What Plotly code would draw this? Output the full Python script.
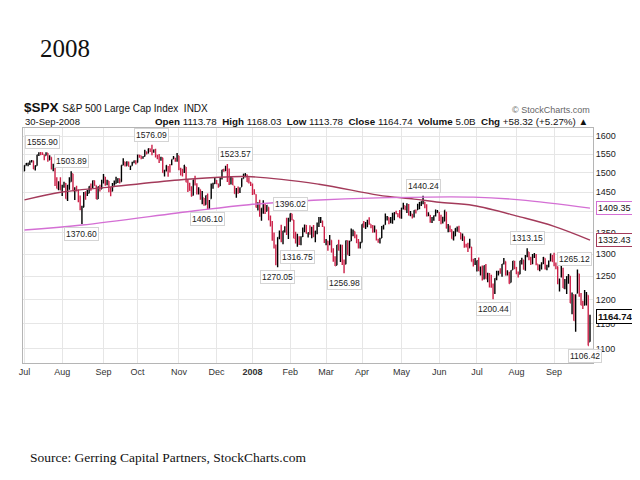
import math

import pandas as pd
import plotly.graph_objects as go

# trading calendar (NYSE holidays inside the window)
holidays = [
    "2007-07-04", "2007-09-03", "2007-11-22", "2007-12-25", "2008-01-01", "2008-01-21",
    "2008-02-18", "2008-03-21", "2008-05-26", "2008-07-04", "2008-09-01",
]

# daily S&P 500 bars, one line per month (Jul 2007 .. Sep 2008)
opens = [
    1504.7, 1519.1, 1524.9, 1524.5, 1530.4, 1531.9, 1509.9, 1518.7, 1547.7, 1552.5, 1549.5, 1549.2, 1546.1, 1553.2, 1534.1, 1541.6, 1511.0, 1518.1, 1482.4, 1458.9, 1473.9,
    1455.2, 1465.5, 1472.2, 1433.0, 1467.6, 1476.2, 1497.2, 1453.1, 1453.4, 1452.9, 1426.2, 1406.6, 1411.3, 1445.6, 1445.6, 1447.0, 1464.0, 1462.3, 1479.4, 1466.7, 1432.0, 1463.7, 1457.6,
    1473.9, 1488.8, 1472.0, 1478.5, 1453.5, 1451.7, 1471.1, 1471.5, 1483.9, 1484.2, 1476.6, 1519.8, 1528.7, 1518.8, 1525.8, 1516.3, 1518.6, 1527.3, 1531.2,
    1527.3, 1546.9, 1545.8, 1539.9, 1543.8, 1556.5, 1553.2, 1564.9, 1564.7, 1555.4, 1562.2, 1547.8, 1544.4, 1539.3, 1540.0, 1497.8, 1509.0, 1516.6, 1516.2, 1522.2, 1536.9, 1539.4, 1532.2,
    1545.8, 1511.1, 1505.6, 1505.3, 1515.5, 1475.3, 1467.6, 1453.7, 1441.4, 1483.4, 1468.0, 1453.1, 1456.7, 1434.5, 1434.7, 1417.6, 1440.7, 1409.6, 1432.9, 1467.4, 1471.8,
    1479.6, 1471.3, 1465.2, 1484.6, 1508.6, 1505.1, 1516.7, 1487.6, 1483.3, 1486.2, 1465.1, 1445.9, 1454.7, 1456.4, 1463.2, 1484.6, 1495.1, 1495.1, 1479.8, 1475.3,
    1467.9, 1447.6, 1444.0, 1414.1, 1415.7, 1390.3, 1406.8, 1419.9, 1401.6, 1411.9, 1377.4, 1374.8, 1333.9, 1312.9, 1310.4, 1340.1, 1357.3, 1330.7, 1355.9, 1362.2, 1351.9,
    1378.6, 1395.4, 1380.3, 1339.5, 1324.0, 1336.9, 1331.9, 1340.6, 1353.1, 1367.3, 1347.5, 1355.9, 1348.4, 1362.2, 1344.2, 1352.8, 1371.8, 1378.9, 1378.2, 1364.1,
    1330.5, 1329.6, 1327.7, 1332.2, 1301.5, 1293.2, 1274.4, 1321.1, 1305.3, 1316.1, 1283.2, 1277.0, 1330.0, 1299.7, 1330.3, 1349.1, 1352.5, 1340.3, 1327.0, 1315.9,
    1326.4, 1369.9, 1365.7, 1369.9, 1373.7, 1370.2, 1365.5, 1355.4, 1357.0, 1332.2, 1331.7, 1337.0, 1363.4, 1369.0, 1387.7, 1386.4, 1378.4, 1380.5, 1387.8, 1397.9, 1395.6, 1391.2,
    1385.1, 1409.2, 1415.3, 1405.6, 1417.5, 1394.3, 1394.9, 1389.4, 1404.4, 1405.0, 1408.4, 1423.9, 1425.3, 1424.5, 1414.1, 1390.8, 1392.2, 1375.9, 1386.5, 1390.5, 1398.4,
    1399.6, 1386.4, 1376.3, 1377.5, 1400.1, 1360.8, 1358.9, 1357.1, 1335.8, 1341.8, 1358.9, 1360.7, 1349.6, 1336.9, 1341.0, 1319.8, 1317.2, 1314.5, 1316.3, 1283.6, 1278.1,
    1276.7, 1285.0, 1262.9, 1262.9, 1251.8, 1273.4, 1245.3, 1248.7, 1241.6, 1226.8, 1214.6, 1246.3, 1258.2, 1261.8, 1257.1, 1278.9, 1283.2, 1253.5, 1257.8, 1236.4, 1264.5, 1281.4,
    1269.4, 1253.3, 1254.9, 1283.0, 1286.5, 1266.3, 1294.4, 1304.8, 1288.6, 1282.1, 1293.9, 1298.1, 1276.7, 1267.3, 1271.1, 1277.6, 1290.5, 1267.0, 1271.3, 1283.8, 1296.5,
    1287.8, 1276.6, 1271.8, 1233.2, 1249.5, 1267.0, 1227.5, 1229.0, 1245.9, 1250.9, 1188.3, 1210.3, 1157.1, 1213.1, 1255.4, 1207.6, 1188.8, 1187.9, 1204.5, 1209.1, 1113.78,
]
highs = [
    1519.9, 1526.0, 1526.6, 1532.4, 1534.3, 1531.9, 1519.3, 1548.0, 1555.1, 1555.90, 1555.3, 1549.2, 1555.2, 1553.2, 1547.2, 1541.6, 1524.3, 1518.1, 1488.5, 1477.9, 1488.3,
    1468.4, 1476.4, 1473.2, 1467.7, 1488.3, 1503.89, 1497.2, 1462.0, 1466.3, 1456.7, 1440.8, 1415.1, 1450.3, 1451.8, 1455.3, 1464.9, 1472.1, 1479.4, 1479.4, 1466.7, 1464.4, 1468.4, 1481.5,
    1496.4, 1488.8, 1481.5, 1478.5, 1462.0, 1473.0, 1479.5, 1489.6, 1485.0, 1484.2, 1520.2, 1538.7, 1529.1, 1530.9, 1530.2, 1518.3, 1529.4, 1532.4, 1533.7,
    1549.0, 1548.0, 1545.8, 1544.0, 1561.9, 1556.5, 1565.3, 1565.4, 1576.09, 1563.0, 1564.7, 1547.8, 1550.7, 1542.8, 1540.0, 1508.1, 1520.0, 1517.2, 1523.2, 1535.5, 1544.7, 1539.4, 1553.0,
    1545.8, 1513.2, 1510.8, 1520.8, 1515.5, 1482.5, 1474.1, 1464.9, 1481.4, 1492.1, 1472.7, 1462.2, 1456.7, 1452.6, 1434.7, 1440.9, 1446.1, 1429.5, 1471.6, 1473.8, 1488.9,
    1481.2, 1471.3, 1486.1, 1508.0, 1510.6, 1518.3, 1523.57, 1511.0, 1489.4, 1486.7, 1465.1, 1460.2, 1464.4, 1461.5, 1485.4, 1497.6, 1498.9, 1495.1, 1488.0, 1475.8,
    1471.8, 1456.8, 1444.0, 1423.9, 1430.3, 1409.2, 1429.1, 1419.9, 1417.3, 1411.9, 1391.0, 1377.7, 1350.3, 1322.1, 1339.1, 1355.2, 1368.6, 1354.5, 1364.9, 1385.9, 1385.6,
    1396.02, 1395.4, 1380.3, 1351.9, 1347.3, 1341.2, 1341.4, 1362.1, 1369.2, 1368.2, 1350.0, 1367.3, 1363.7, 1367.9, 1354.3, 1374.4, 1387.3, 1387.3, 1378.2, 1364.1,
    1335.1, 1331.0, 1344.2, 1332.2, 1313.2, 1295.0, 1320.7, 1333.3, 1321.7, 1321.5, 1287.5, 1331.3, 1331.8, 1330.7, 1359.7, 1357.1, 1352.5, 1345.6, 1334.9, 1328.5,
    1370.2, 1377.9, 1375.7, 1380.9, 1386.7, 1370.2, 1368.4, 1367.2, 1357.0, 1335.6, 1337.7, 1365.5, 1368.6, 1395.9, 1390.2, 1386.4, 1387.8, 1397.7, 1399.1, 1402.9, 1397.0, 1404.6,
    1410.1, 1422.7, 1415.3, 1421.6, 1419.5, 1402.4, 1394.9, 1404.1, 1406.3, 1420.2, 1424.4, 1425.8, 1440.24, 1424.5, 1419.1, 1399.1, 1392.2, 1387.4, 1391.3, 1406.3, 1404.5,
    1399.6, 1393.1, 1388.2, 1404.1, 1400.1, 1370.6, 1366.8, 1357.1, 1353.0, 1360.3, 1364.7, 1366.6, 1349.6, 1347.7, 1341.0, 1323.8, 1326.0, 1335.6, 1316.3, 1289.5, 1290.7,
    1285.3, 1292.2, 1271.7, 1273.9, 1274.2, 1277.4, 1257.7, 1257.3, 1253.5, 1234.4, 1245.5, 1262.3, 1262.2, 1267.7, 1277.4, 1291.2, 1283.2, 1263.2, 1260.1, 1263.2, 1284.3, 1284.9,
    1270.5, 1260.5, 1284.9, 1291.7, 1286.5, 1297.9, 1313.15, 1304.8, 1294.0, 1300.1, 1302.2, 1300.2, 1276.7, 1276.0, 1281.4, 1293.1, 1290.5, 1275.7, 1285.1, 1300.7, 1297.6,
    1303.0, 1280.6, 1271.8, 1244.9, 1274.4, 1268.7, 1243.9, 1249.9, 1255.1, 1250.9, 1214.8, 1210.3, 1211.1, 1265.12, 1255.4, 1214.0, 1197.4, 1220.0, 1215.8, 1209.1, 1168.03,
]
lows = [
    1504.7, 1519.1, 1517.1, 1520.5, 1527.5, 1510.0, 1506.1, 1518.7, 1544.9, 1546.7, 1547.7, 1533.7, 1546.1, 1529.2, 1534.1, 1508.6, 1503.7, 1465.3, 1458.9, 1454.3, 1454.3,
    1439.6, 1460.6, 1432.8, 1427.4, 1455.8, 1476.2, 1453.1, 1429.7, 1451.5, 1423.9, 1404.4, 1370.60, 1411.3, 1430.5, 1439.8, 1447.0, 1453.0, 1460.5, 1465.9, 1432.0, 1432.0, 1451.3, 1457.6,
    1472.2, 1466.3, 1467.4, 1449.1, 1439.3, 1451.7, 1465.8, 1471.5, 1473.2, 1471.8, 1476.6, 1519.8, 1516.4, 1518.8, 1516.1, 1507.1, 1518.6, 1525.4, 1521.9,
    1527.3, 1540.4, 1536.3, 1537.6, 1543.8, 1549.0, 1551.8, 1555.5, 1546.7, 1554.1, 1540.8, 1536.3, 1526.0, 1531.8, 1500.3, 1490.4, 1503.6, 1489.6, 1500.5, 1520.2, 1536.9, 1529.6, 1529.4,
    1506.7, 1492.5, 1489.9, 1499.1, 1475.0, 1450.3, 1453.0, 1438.5, 1441.4, 1466.5, 1443.5, 1443.9, 1430.4, 1419.3, 1415.6, 1417.6, 1406.10, 1407.4, 1432.9, 1458.4, 1470.9,
    1470.1, 1460.7, 1465.2, 1482.2, 1502.7, 1504.7, 1475.9, 1468.2, 1469.2, 1467.8, 1445.4, 1435.7, 1445.3, 1447.5, 1463.2, 1484.6, 1488.2, 1475.9, 1471.7, 1465.1,
    1442.1, 1443.7, 1411.2, 1403.5, 1388.3, 1378.7, 1395.3, 1394.8, 1401.6, 1379.6, 1364.3, 1330.7, 1312.5, 1274.3, 1270.05, 1334.3, 1327.5, 1322.6, 1350.3, 1344.2, 1335.0,
    1375.9, 1379.7, 1336.6, 1324.3, 1316.75, 1321.1, 1320.3, 1339.4, 1350.8, 1347.3, 1338.1, 1345.1, 1336.6, 1339.2, 1327.0, 1346.0, 1363.3, 1373.0, 1363.2, 1325.4,
    1320.0, 1307.4, 1320.2, 1303.4, 1282.4, 1272.7, 1274.4, 1307.9, 1282.1, 1274.9, 1256.98, 1277.0, 1298.4, 1295.2, 1330.3, 1341.2, 1336.4, 1325.7, 1312.9, 1312.8,
    1326.4, 1361.6, 1358.7, 1362.8, 1369.0, 1360.6, 1349.9, 1350.1, 1331.2, 1326.2, 1324.4, 1337.0, 1357.3, 1369.0, 1379.3, 1369.8, 1372.2, 1371.1, 1379.9, 1394.4, 1386.7, 1384.4,
    1383.1, 1406.3, 1404.4, 1397.1, 1391.2, 1389.4, 1384.1, 1386.2, 1396.3, 1405.0, 1406.9, 1414.4, 1419.3, 1409.1, 1388.8, 1390.2, 1373.7, 1373.1, 1378.2, 1388.6, 1398.1,
    1377.8, 1370.1, 1371.7, 1377.5, 1359.9, 1350.7, 1351.6, 1335.4, 1331.3, 1341.7, 1352.1, 1350.5, 1333.4, 1330.4, 1314.5, 1315.3, 1304.4, 1314.5, 1283.1, 1272.0, 1274.9,
    1260.7, 1261.5, 1252.0, 1240.7, 1242.8, 1244.6, 1236.8, 1225.4, 1225.0, 1200.44, 1211.4, 1241.4, 1251.8, 1255.7, 1248.8, 1276.1, 1251.5, 1251.8, 1233.9, 1236.4, 1264.5, 1265.7,
    1254.5, 1247.5, 1254.7, 1276.0, 1264.3, 1262.1, 1292.8, 1285.6, 1274.9, 1276.6, 1290.7, 1274.5, 1263.1, 1261.2, 1265.2, 1277.6, 1264.9, 1263.2, 1270.0, 1283.8, 1282.7,
    1272.2, 1265.6, 1232.8, 1217.2, 1247.1, 1224.5, 1221.6, 1211.5, 1233.8, 1192.7, 1169.3, 1155.9, 1133.5, 1213.1, 1205.6, 1187.8, 1179.8, 1187.9, 1187.5, 1106.42, 1113.78,
]
closes = [
    1519.43, 1524.87, 1525.40, 1530.44, 1531.85, 1510.12, 1518.76, 1547.70, 1552.50, 1549.52, 1549.37, 1546.17, 1553.08, 1534.10, 1541.57, 1511.04, 1518.09, 1482.66, 1458.95, 1473.91, 1455.27,
    1465.81, 1472.20, 1433.06, 1467.67, 1476.71, 1497.49, 1453.09, 1453.64, 1452.92, 1426.54, 1406.70, 1411.27, 1445.94, 1445.55, 1447.12, 1464.07, 1462.50, 1479.37, 1466.79, 1432.36, 1463.76, 1457.64, 1473.99,
    1489.42, 1472.29, 1478.55, 1453.55, 1451.70, 1471.49, 1471.56, 1483.95, 1484.25, 1476.65, 1519.78, 1529.03, 1518.75, 1525.75, 1517.73, 1517.21, 1525.42, 1531.38, 1526.75,
    1547.04, 1546.63, 1539.59, 1542.84, 1557.59, 1552.58, 1565.15, 1562.47, 1554.41, 1561.80, 1548.71, 1538.53, 1541.24, 1540.08, 1500.63, 1506.33, 1519.59, 1515.88, 1514.40, 1535.28, 1540.98, 1531.02, 1549.38,
    1508.44, 1509.65, 1502.17, 1520.27, 1475.62, 1474.77, 1453.70, 1439.18, 1481.05, 1470.58, 1451.15, 1458.74, 1433.27, 1439.70, 1416.77, 1440.70, 1407.22, 1428.23, 1469.02, 1469.72, 1481.14,
    1472.42, 1462.79, 1485.01, 1507.34, 1504.66, 1515.96, 1477.65, 1486.59, 1488.41, 1467.95, 1445.90, 1454.98, 1453.00, 1460.12, 1484.46, 1496.45, 1497.66, 1476.27, 1478.49, 1468.36,
    1447.16, 1447.16, 1411.63, 1416.18, 1390.19, 1409.13, 1420.33, 1401.02, 1416.25, 1380.95, 1373.20, 1333.25, 1325.19, 1310.50, 1338.60, 1352.07, 1330.61, 1353.97, 1362.30, 1355.81, 1378.55,
    1395.42, 1380.82, 1336.64, 1326.45, 1336.91, 1331.29, 1339.13, 1348.86, 1367.21, 1348.86, 1349.99, 1348.78, 1360.03, 1342.53, 1353.11, 1371.80, 1381.29, 1380.02, 1367.68, 1330.63,
    1331.34, 1326.75, 1333.70, 1304.34, 1293.37, 1273.37, 1320.65, 1308.77, 1315.48, 1288.14, 1276.60, 1330.74, 1298.42, 1329.51, 1349.88, 1352.99, 1341.13, 1325.76, 1315.22, 1322.70,
    1370.18, 1367.53, 1369.31, 1370.40, 1372.54, 1365.54, 1354.49, 1360.55, 1332.83, 1328.32, 1334.43, 1364.71, 1365.56, 1390.33, 1388.17, 1375.94, 1379.93, 1388.82, 1397.84, 1396.37, 1390.94, 1385.59,
    1409.34, 1413.90, 1407.49, 1418.26, 1392.57, 1397.68, 1388.28, 1403.58, 1403.04, 1408.66, 1423.57, 1425.35, 1426.63, 1413.40, 1390.71, 1394.35, 1375.93, 1385.35, 1390.84, 1398.26, 1400.38,
    1385.67, 1377.65, 1377.20, 1404.05, 1360.68, 1361.76, 1358.44, 1335.49, 1339.87, 1360.03, 1360.14, 1350.93, 1337.81, 1342.83, 1317.93, 1318.00, 1314.29, 1321.97, 1283.15, 1278.38, 1280.00,
    1284.91, 1261.52, 1262.90, 1252.31, 1273.70, 1244.69, 1253.39, 1239.49, 1228.30, 1214.91, 1245.36, 1260.32, 1260.68, 1260.00, 1277.00, 1282.19, 1252.54, 1257.76, 1234.37, 1263.20, 1284.26, 1267.38,
    1260.31, 1249.01, 1284.88, 1289.19, 1266.07, 1296.32, 1305.32, 1289.59, 1285.83, 1292.93, 1298.20, 1278.60, 1266.69, 1274.54, 1277.72, 1292.20, 1266.84, 1271.51, 1281.66, 1300.68, 1282.83,
    1277.58, 1274.98, 1236.83, 1242.31, 1267.79, 1224.51, 1232.04, 1249.05, 1251.70, 1192.70, 1213.60, 1156.39, 1206.51, 1255.08, 1207.09, 1188.22, 1185.87, 1209.18, 1213.27, 1106.42, 1164.74,
]

# the two moving-average overlays
ma_long_dates = ["2007-07-02", "2007-08-01", "2007-09-06", "2007-11-01", "2007-12-27", "2008-02-26",
                 "2008-04-14", "2008-05-12", "2008-06-02", "2008-06-27", "2008-08-05", "2008-09-02", "2008-09-30"]
ma_long = [1430, 1450, 1462, 1481, 1490, 1470, 1442, 1432, 1424, 1416, 1388, 1365, 1332.43]
ma_slow_dates = ["2007-07-02", "2007-08-16", "2007-11-14", "2007-12-28", "2008-02-21",
                 "2008-04-14", "2008-06-27", "2008-08-05", "2008-09-30"]
ma_slow = [1356, 1368, 1403, 1418, 1429, 1435, 1437, 1430, 1409.35]

# peaks / troughs that carry a value label
label_days = ["2007-07-16", "2007-08-08", "2007-08-16", "2007-10-11", "2007-11-26", "2007-12-11",
              "2008-02-01", "2008-02-07", "2008-01-23", "2008-03-17", "2008-05-19", "2008-08-11",
              "2008-07-15", "2008-09-19", "2008-09-29"]
label_sides = ["high", "high", "low", "high", "low", "high",
               "high", "low", "low", "low", "high", "high",
               "low", "high", "low"]

month_labels = ["Jul", "Aug", "Sep", "Oct", "Nov", "Dec", "<b>2008</b>", "Feb", "Mar",
                "Apr", "May", "Jun", "Jul", "Aug", "Sep"]
price_ticks = [1100, 1150, 1200, 1250, 1300, 1350, 1400, 1450, 1500, 1550, 1600]

days = [d for d in pd.bdate_range("2007-07-02", "2008-09-30") if d.strftime("%Y-%m-%d") not in holidays]
for name, col in [("opens", opens), ("highs", highs), ("lows", lows), ("closes", closes)]:
    if len(col) != len(days):
        raise SystemExit(f"{name}: {len(col)} values for {len(days)} days")

df = pd.DataFrame({"date": days, "open": opens, "high": highs, "low": lows, "close": closes})
df["key"] = df["date"].dt.strftime("%Y-%m-%d")
month_starts = df.groupby(df["date"].dt.to_period("M"))["date"].first().tolist()

SANS = "Liberation Sans, Arial, sans-serif"
SERIF = "Liberation Serif, DejaVu Serif, serif"
RED = "#cc2048"
MAROON = "#a33a5a"
ORCHID = "#d46fd4"

fig = go.Figure()
fig.add_trace(
    go.Scatter(
        x=ma_long_dates, y=ma_long, mode="lines", line=dict(color=MAROON, width=1.4, shape="spline"),
        hoverinfo="skip", showlegend=False,
    )
)
fig.add_trace(
    go.Scatter(
        x=ma_slow_dates, y=ma_slow, mode="lines", line=dict(color=ORCHID, width=1.4, shape="spline"),
        hoverinfo="skip", showlegend=False,
    )
)
fig.add_trace(
    go.Ohlc(
        x=df["date"], open=df["open"], high=df["high"], low=df["low"], close=df["close"],
        increasing=dict(line=dict(color="black", width=1.4)),
        decreasing=dict(line=dict(color=RED, width=1.4)),
        tickwidth=0.4, showlegend=False,
    )
)

# the page body adds an 8px margin, so the figure is 8px smaller than the window
fig.update_layout(
    width=632, height=472, autosize=False,
    margin=dict(l=15, r=47, t=120, b=117),
    paper_bgcolor="white", plot_bgcolor="white",
    font=dict(family=SANS, size=9, color="#222"),
    showlegend=False,
)
fig.update_xaxes(
    rangeslider_visible=False,
    type="date",
    range=["2007-06-29 04:00", "2008-10-01 16:00"],
    rangebreaks=[dict(bounds=["sat", "mon"]), dict(values=holidays)],
    tickvals=month_starts, ticktext=month_labels,
    showgrid=True, gridcolor="#e6e6e6", gridwidth=1,
    showline=True, linecolor="#b5b5b5", linewidth=1, mirror=True,
    ticks="", tickfont=dict(family=SANS, size=9, color="#333"),
)
fig.update_yaxes(
    type="log",
    range=[math.log10(1073), math.log10(1623)],
    side="right",
    tickvals=price_ticks, ticktext=[str(v) for v in price_ticks],
    showgrid=True, gridcolor="#e6e6e6", gridwidth=1,
    showline=True, linecolor="#b5b5b5", linewidth=1, mirror=True,
    ticks="", tickfont=dict(family=SANS, size=9, color="#222"),
)

# value labels on the swing highs / lows
nudges = {"2007-07-16": 2, "2007-12-11": 8, "2008-09-19": -3, "2008-09-29": -3}
for day, side in zip(label_days, label_sides):
    row = df[df["key"] == day].iloc[0]
    v = row[side]
    fig.add_annotation(
        x=row["date"], y=math.log10(v), xref="x", yref="y",
        text=f"{v:.2f}", showarrow=False,
        xanchor="center", yanchor="bottom" if side == "high" else "top",
        yshift=3 if side == "high" else -3, xshift=nudges.get(day, 0),
        font=dict(family=SANS, size=8.5, color="#222"),
        bgcolor="rgba(255,255,255,0.92)", bordercolor="#d4d4d4", borderwidth=1, borderpad=1,
    )

# last-value tags on the right axis
for v, col, bold in [(ma_slow[-1], ORCHID, False), (ma_long[-1], MAROON, False), (closes[-1], "black", True)]:
    txt = f"<b>{v:.2f}</b>" if bold else f"{v:.2f}"
    fig.add_annotation(
        x=1.006, y=math.log10(v), xref="paper", yref="y", text=txt, showarrow=False,
        xanchor="left", yanchor="middle",
        font=dict(family=SANS, size=9.5 if bold else 9, color="#111"),
        bgcolor="white", bordercolor=col, borderwidth=1, borderpad=1,
    )

# chart header
fig.add_annotation(
    x=-0.002, y=1.089, xref="paper", yref="paper", xanchor="left", yanchor="middle", showarrow=False,
    text="<b>$SPX</b> <span style='font-size:10px'>S&amp;P 500 Large Cap Index  INDX</span>",
    font=dict(family=SANS, size=13.5, color="#111"),
)
fig.add_annotation(
    x=0.0, y=1.026, xref="paper", yref="paper", xanchor="left", yanchor="middle", showarrow=False,
    text="30-Sep-2008", font=dict(family=SANS, size=9.5, color="#111"),
)
fig.add_annotation(
    x=0.995, y=1.026, xref="paper", yref="paper", xanchor="right", yanchor="middle", showarrow=False,
    text=(
        f"<b>Open</b> {opens[-1]:.2f}  <b>High</b> {highs[-1]:.2f}  <b>Low</b> {lows[-1]:.2f}  "
        f"<b>Close</b> {closes[-1]:.2f}  <b>Volume</b> 5.0B  <b>Chg</b> +58.32 (+5.27%) ▲"
    ),
    font=dict(family=SANS, size=9.8, color="#111"),
)
fig.add_annotation(
    x=0.998, y=1.077, xref="paper", yref="paper", xanchor="right", yanchor="middle", showarrow=False,
    text="© StockCharts.com", font=dict(family=SANS, size=9, color="#666"),
)

# slide title and source line
fig.add_annotation(
    x=0.026, y=1.34, xref="paper", yref="paper", xanchor="left", yanchor="middle", showarrow=False,
    text="2008", font=dict(family=SERIF, size=25, color="#111"),
)
fig.add_annotation(
    x=0.009, y=-0.404, xref="paper", yref="paper", xanchor="left", yanchor="middle", showarrow=False,
    text="Source: Gerring Capital Partners, StockCharts.com",
    font=dict(family=SERIF, size=13.5, color="#111"),
)

fig.write_html("out.html")
